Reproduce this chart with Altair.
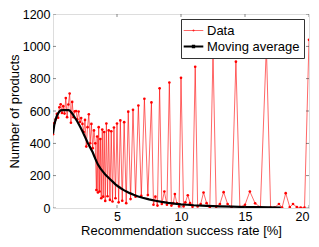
import altair as alt
import pandas as pd

FONT = "Liberation Sans"

series_names = ["Data", "Moving average"]
x_ticks = [5, 10, 15, 20]
y_ticks = [0, 200, 400, 600, 800, 1000, 1200]

data_x = [0.0, 0.1, 0.2, 0.3, 0.4, 0.5, 0.6, 0.7, 0.8, 0.9,
          1.0, 1.1, 1.2, 1.3, 1.4, 1.5, 1.6, 1.7, 1.8, 1.9,
          2.0, 2.1, 2.2, 2.3, 2.4, 2.5, 2.6, 2.7, 2.8, 2.9,
          3.0, 3.1, 3.2, 3.3,
          3.39, 3.45, 3.51, 3.57, 3.64, 3.70, 3.77, 3.85, 3.92, 4.00,
          4.08, 4.17, 4.26, 4.35, 4.45, 4.55, 4.65, 4.76, 4.88, 5.00,
          5.13, 5.26, 5.41, 5.56, 5.72, 5.88, 6.06, 6.25, 6.45, 6.67,
          6.90, 7.14, 7.41, 7.69, 7.85, 8.00, 8.16, 8.33, 8.50, 8.70,
          8.90, 9.09, 9.25, 9.40, 9.52, 9.68, 9.85, 10.00, 10.20, 10.34,
          10.53, 10.71, 10.90, 11.11, 11.30, 11.54, 11.76, 12.00, 12.25, 12.50,
          12.75, 13.04, 13.33, 13.64, 13.95, 14.29, 14.60, 15.00, 15.38, 15.79,
          16.20, 16.67, 17.00, 17.30, 17.65, 17.90, 18.18, 18.50, 18.75, 19.05,
          19.35, 19.65, 20.00]
data_y = [456, 525, 548, 582, 558, 623, 642, 588, 630, 584,
          680, 562, 640, 708, 527, 656, 562, 598, 600, 548,
          597, 532, 557, 520, 470, 545, 380, 500, 580, 400,
          520, 370, 480, 400,
          111, 442, 96, 500, 102, 427, 60, 485, 70, 470,
          44, 523, 73, 480, 50, 475, 40, 498, 60, 523,
          35, 542, 45, 531, 30, 596, 55, 607, 70, 634,
          75, 676, 80, 653, 20, 70, 15, 740, 25, 102,
          20, 776, 15, 30, 86, 29, 10, 805, 10, 35,
          79, 30, 8, 874, 10, 25, 96, 30, 5, 958,
          8, 25, 98, 25, 5, 905, 5, 20, 102, 29,
          5, 1000, 3, 2, 25, 3, 92, 5, 25, 5,
          3, 3, 1040]

ma_x = [0.0, 0.1, 0.2, 0.3, 0.4, 0.5, 0.6, 0.8, 1.0, 1.2,
        1.3, 1.5, 1.7, 1.9, 2.1, 2.3, 2.5, 2.7, 2.9, 3.1,
        3.3, 3.5, 3.7, 3.9, 4.1, 4.3, 4.5, 4.7, 4.9, 5.1,
        5.3, 5.5, 5.7, 6.0, 6.3, 6.6, 7.0, 7.5, 8.0, 8.5,
        9.0, 9.5, 10.0, 10.5, 11.0, 12.0, 13.0, 14.0, 15.0, 16.0,
        17.0, 17.8]
ma_y = [460, 515, 545, 570, 585, 597, 604, 606, 606, 605,
        603, 585, 560, 535, 505, 475, 440, 405, 375, 345,
        305, 270, 245, 225, 205, 190, 175, 160, 145, 133,
        122, 112, 103, 92, 82, 73, 63, 53, 45, 38,
        32, 27, 23, 20, 17, 13, 10, 8, 6, 5,
        4, 3]

df_data = pd.DataFrame({"x": data_x, "y": data_y, "series": "Data"})
df_ma = pd.DataFrame({"x": ma_x, "y": ma_y, "series": "Moving average"})
df_xt = pd.DataFrame({"x": x_ticks})
df_yt = pd.DataFrame({"y": y_ticks})

W, H = 256, 194

xs = alt.Scale(domain=[0, 20], nice=False, zero=False)
ys = alt.Scale(domain=[0, 1200], nice=False)

x_enc = alt.X("x:Q", scale=xs, axis=alt.Axis(
    values=x_ticks, format="d", title="Recommendation success rate [%]",
    grid=False, ticks=False, domain=False, labelFont=FONT, labelFontSize=12.5,
    labelColor="black", labelPadding=2, titleFont=FONT, titleFontSize=13,
    titleFontWeight="normal", titleColor="black", titlePadding=2))
y_enc = alt.Y("y:Q", scale=ys, axis=alt.Axis(
    values=y_ticks, format="d", title="Number of products", grid=False,
    ticks=False, domain=False, labelFont=FONT, labelFontSize=12.5,
    labelColor="black", labelPadding=3, titleFont=FONT, titleFontSize=13,
    titleFontWeight="normal", titleColor="black", titlePadding=1))

leg = alt.Legend(title=None, orient="top-right", offset=5, fillColor="white",
                 strokeColor="#333333", padding=4, labelFont=FONT,
                 labelFontSize=13, labelColor="black",
                 symbolType="M-1.4,0H1.4M-0.08,-0.08H0.08V0.08H-0.08Z",
                 symbolSize=196, rowPadding=0, labelOffset=5)
color = alt.Color("series:N", scale=alt.Scale(domain=series_names,
                                              range=["#ff0000", "#000000"]),
                  legend=leg)
sw = alt.StrokeWidth("series:N", scale=alt.Scale(domain=series_names,
                                                 range=[0.6, 2.2]),
                     legend=leg)

data_line = alt.Chart(df_data).mark_line(clip=True).encode(
    x=x_enc, y=y_enc, color=color, strokeWidth=sw)
data_pts = alt.Chart(df_data).mark_point(
    filled=True, size=7, opacity=1, color="#ff0000", clip=True).encode(
    x=x_enc, y=y_enc)
ma_line = alt.Chart(df_ma).mark_line(clip=True).encode(
    x=x_enc, y=y_enc, color=color, strokeWidth=sw)

tick_style = dict(clip=True, color="#333333", thickness=0.8, size=6)
xt_bot = alt.Chart(df_xt).mark_tick(orient="vertical", **tick_style).encode(
    x=x_enc, y=alt.value(H))
xt_top = alt.Chart(df_xt).mark_tick(orient="vertical", **tick_style).encode(
    x=x_enc, y=alt.value(0))
yt_left = alt.Chart(df_yt).mark_tick(orient="horizontal", **tick_style).encode(
    y=y_enc, x=alt.value(0))
yt_right = alt.Chart(df_yt).mark_tick(orient="horizontal", **tick_style).encode(
    y=y_enc, x=alt.value(W))

chart = alt.layer(data_line, data_pts, ma_line, xt_bot, xt_top, yt_left,
                  yt_right).properties(
    width=W, height=H,
    autosize=alt.AutoSizeParams(type="none"),
    padding={"left": 45, "top": 6, "right": 2, "bottom": 31},
).configure_view(stroke="#333333", strokeWidth=1).configure(background="white")

chart.save("out.html", embed_options={"renderer": "svg", "actions": False})
